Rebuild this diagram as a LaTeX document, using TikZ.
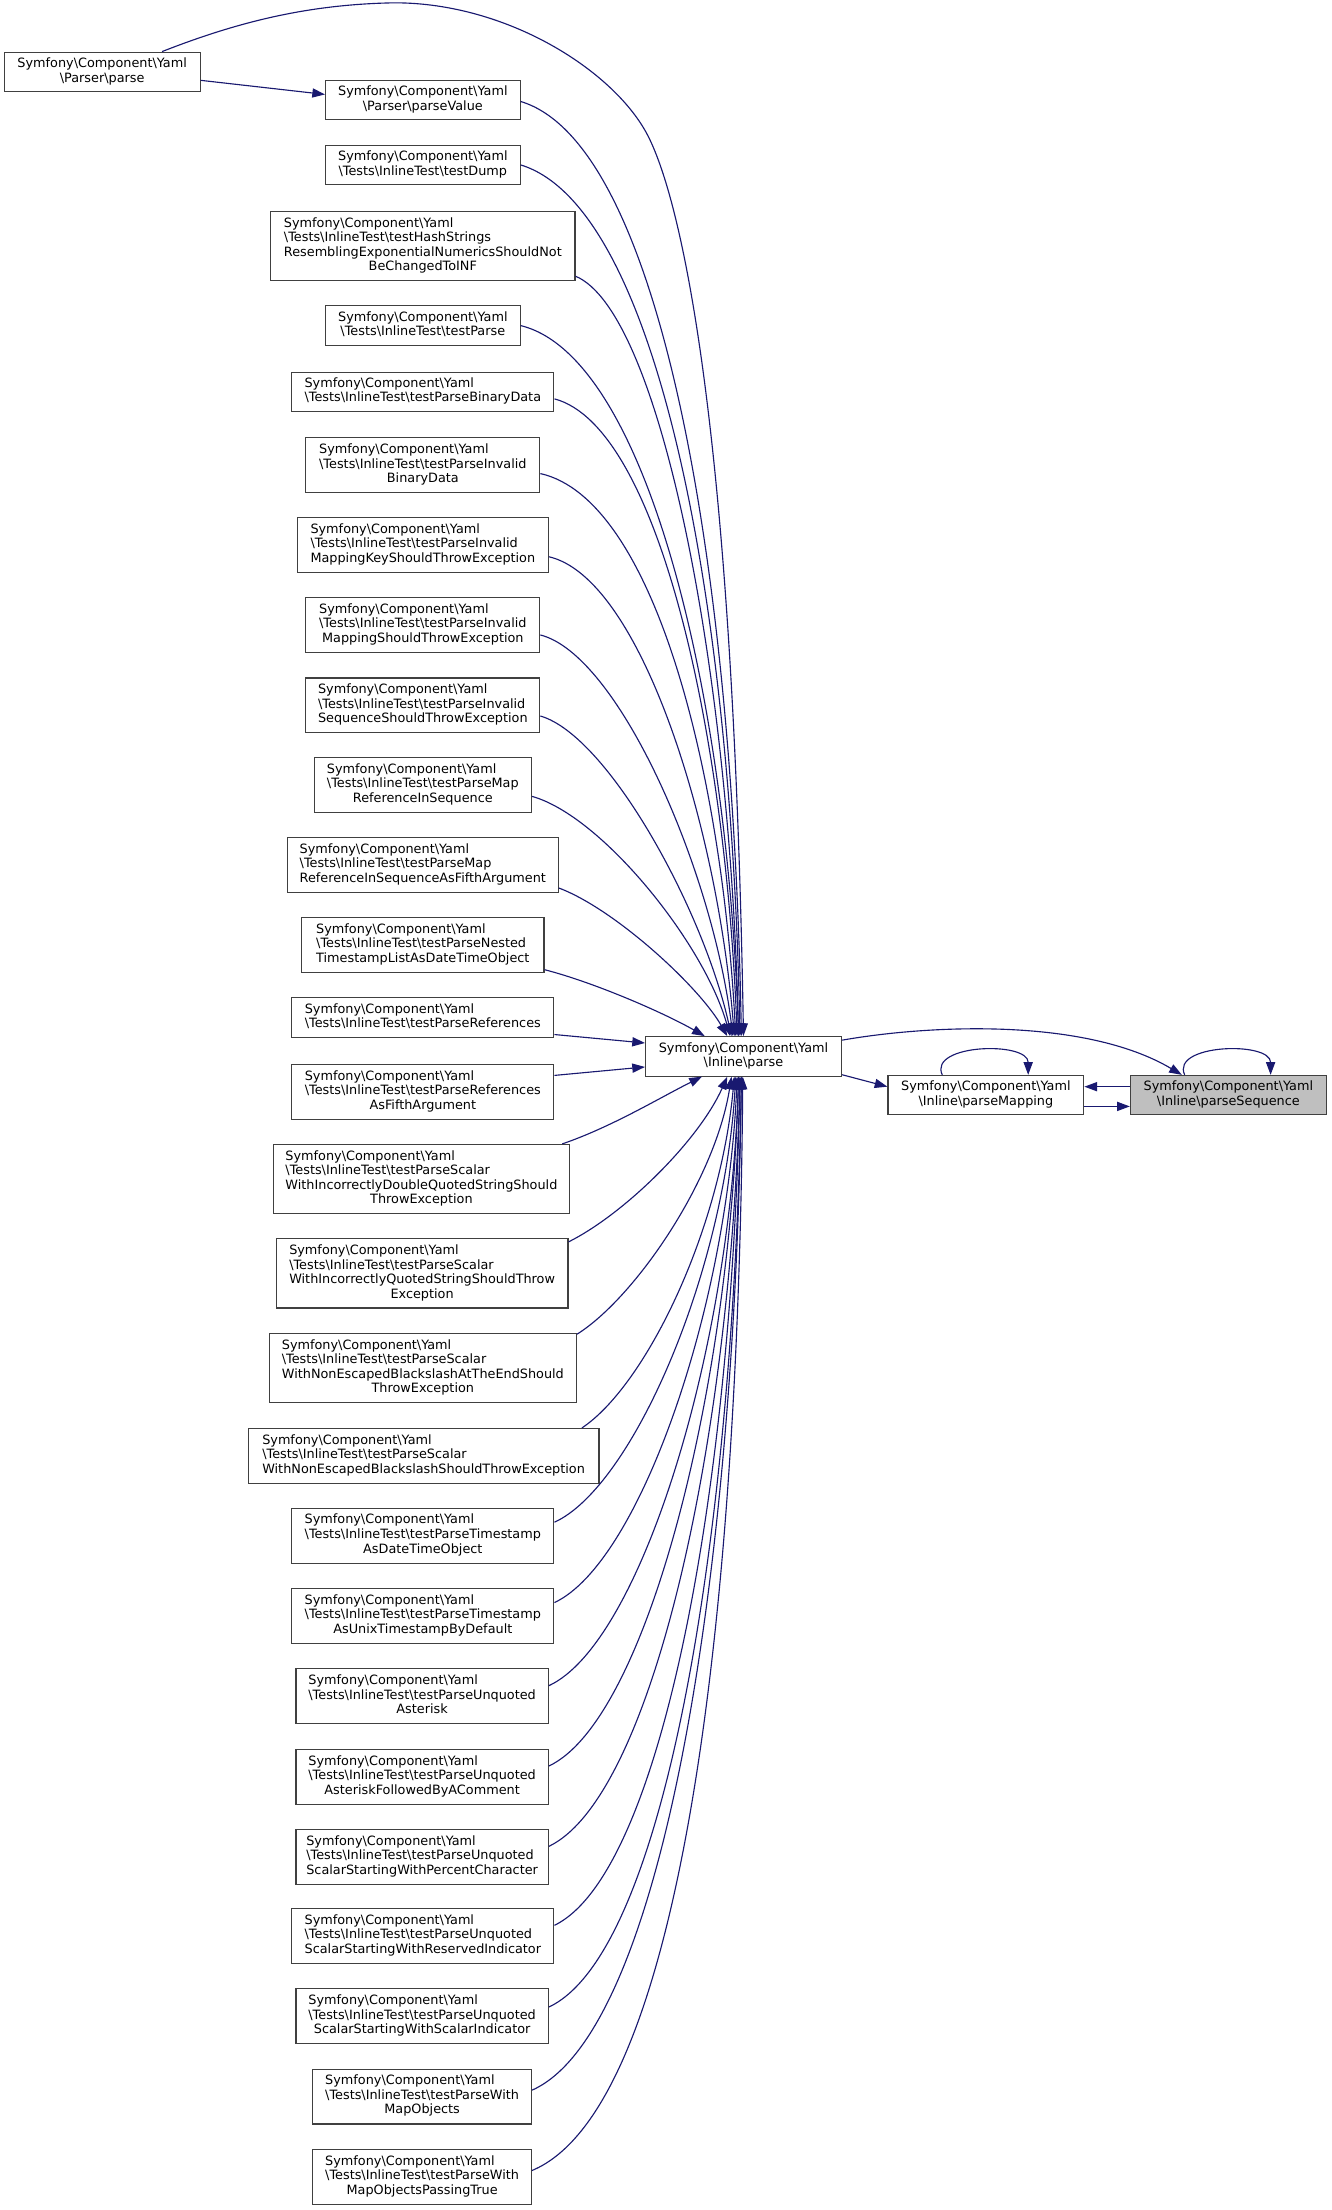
\documentclass[tikz,border=0pt]{standalone}
\usepackage{fontspec}
\setmainfont{DejaVu Sans}
\usetikzlibrary{arrows.meta,calc}
\definecolor{edgec}{HTML}{191970}
\definecolor{boxc}{HTML}{404040}
\definecolor{selfc}{HTML}{BFBFBF}
\newcommand\BSL{\textbackslash}
\newcommand\SY{Symfony\BSL Component\BSL Yaml}
\newcommand\TI{\BSL Tests\BSL InlineTest\BSL}
\newcommand\LL[1]{\multicolumn{1}{@{}c@{}}{#1}}
\newcommand\mkbox[7][]{\node[fnbox,minimum width=#5pt,minimum height=#6pt,#1] (#2) at (#3,#4) {\begin{tabular}{@{}l@{}}#7\end{tabular}};}
\tikzset{
  fnbox/.style={draw=boxc,line width=0.8pt,fill=white,inner sep=0pt,rectangle,font=\fontsize{9.1}{10.3}\selectfont},
  edge/.style={draw=edgec,line width=0.8pt,-{Triangle[length=9pt,width=6.5pt]}}
}
\begin{document}
\begin{tikzpicture}[x=1pt,y=-1pt]
\fill[white] (0,0) rectangle (945,1568);
\useasboundingbox (0,0) rectangle (945,1568);
% nodes
\mkbox{pparse}{72.5}{51}{139}{28}{\SY\\\LL{\BSL Parser\BSL parse}}
\mkbox{pvalue}{300}{71}{138}{28}{\SY\\\LL{\BSL Parser\BSL parseValue}}
\mkbox{tdump}{300}{117}{138}{28}{\SY\\\LL{\TI testDump}}
\mkbox{thash}{300}{174.5}{216}{49}{\SY\\\TI testHashStrings\\ResemblingExponentialNumericsShouldNot\\\LL{BeChangedToINF}}
\mkbox{tparse}{300}{231}{138}{28}{\SY\\\LL{\TI testParse}}
\mkbox{tbin}{300}{278}{186}{28}{\SY\\\LL{\TI testParseBinaryData}}
\mkbox{tinvbin}{300}{330}{166}{39}{\SY\\\TI testParseInvalid\\\LL{BinaryData}}
\mkbox{tkey}{300}{386.5}{178}{39}{\SY\\\TI testParseInvalid\\\LL{MappingKeyShouldThrowException}}
\mkbox{tmap}{300}{443.5}{166}{39}{\SY\\\TI testParseInvalid\\\LL{MappingShouldThrowException}}
\mkbox{tseq}{300}{500.5}{166}{39}{\SY\\\TI testParseInvalid\\\LL{SequenceShouldThrowException}}
\mkbox{tref}{300}{557}{154}{39}{\SY\\\TI testParseMap\\\LL{ReferenceInSequence}}
\mkbox{treffifth}{300}{613.5}{192}{39}{\SY\\\TI testParseMap\\\LL{ReferenceInSequenceAsFifthArgument}}
\mkbox{tnested}{300}{670.5}{172}{39}{\SY\\\TI testParseNested\\\LL{TimestampListAsDateTimeObject}}
\mkbox{trefs}{300}{722}{186}{28}{\SY\\\LL{\TI testParseReferences}}
\mkbox{trefs5}{300}{774.5}{186}{39}{\SY\\\TI testParseReferences\\\LL{AsFifthArgument}}
\mkbox{tdq}{299}{836.5}{210}{49}{\SY\\\TI testParseScalar\\WithIncorrectlyDoubleQuotedStringShould\\\LL{ThrowException}}
\mkbox{tiq}{299.5}{903.5}{207}{49}{\SY\\\TI testParseScalar\\WithIncorrectlyQuotedStringShouldThrow\\\LL{Exception}}
\mkbox{tend}{300}{970.5}{218}{49}{\SY\\\TI testParseScalar\\WithNonEscapedBlackslashAtTheEndShould\\\LL{ThrowException}}
\mkbox{tnonesc}{300.5}{1033}{249}{39}{\SY\\\TI testParseScalar\\\LL{WithNonEscapedBlackslashShouldThrowException}}
\mkbox{tts}{300}{1089.5}{186}{39}{\SY\\\TI testParseTimestamp\\\LL{AsDateTimeObject}}
\mkbox{tunix}{300}{1146.5}{186}{39}{\SY\\\TI testParseTimestamp\\\LL{AsUnixTimestampByDefault}}
\mkbox{tast}{299.5}{1203.5}{179}{39}{\SY\\\TI testParseUnquoted\\\LL{Asterisk}}
\mkbox{tastc}{299.5}{1260.5}{179}{39}{\SY\\\TI testParseUnquoted\\\LL{AsteriskFollowedByAComment}}
\mkbox{tpct}{299.5}{1317.5}{179}{39}{\SY\\\TI testParseUnquoted\\\LL{ScalarStartingWithPercentCharacter}}
\mkbox{tres}{300}{1373.5}{186}{39}{\SY\\\TI testParseUnquoted\\\LL{ScalarStartingWithReservedIndicator}}
\mkbox{tscal}{299.5}{1430.5}{179}{39}{\SY\\\TI testParseUnquoted\\\LL{ScalarStartingWithScalarIndicator}}
\mkbox{tmo}{299.5}{1487.5}{155}{39}{\SY\\\TI testParseWith\\\LL{MapObjects}}
\mkbox{tmopt}{299.5}{1544.5}{155}{39}{\SY\\\TI testParseWith\\\LL{MapObjectsPassingTrue}}
\mkbox{iparse}{527.5}{749.5}{139}{28}{\SY\\\LL{\BSL Inline\BSL parse}}
\mkbox{pmap}{699.5}{777}{139}{28}{\SY\\\LL{\BSL Inline\BSL parseMapping}}
\mkbox[fill=selfc]{pseq}{871.5}{777}{139}{28}{\SY\\\LL{\BSL Inline\BSL parseSequence}}
% edges
\draw[edge] ($(pparse.east)+(0,6)$) -- ($(pvalue.west)+(0,-4)$);
\draw[edge] ($(pparse.north)+(42.5,0)$) .. controls (170,15) and (220,3) .. (280,2)
  .. controls (360,2) and (435,50) .. (459,95)
  .. controls (483,140) and (520,300) .. (iparse.north);
\draw[edge] ($(pvalue.east)+(0,1)$) .. controls +(100,30) and +(-6,-330) .. ($(iparse.north)+(-1.5,0)$);
\draw[edge] (tdump.east) .. controls +(98,30) and +(-6,-305) .. ($(iparse.north)+(-2.5,0)$);
\draw[edge] ($(thash.east)+(0,21.5)$) .. controls +(60,25) and +(-6,-260) .. ($(iparse.north)+(-3.5,0)$);
\draw[edge] (tparse.east) .. controls +(90,22) and +(-8,-240) .. ($(iparse.north)+(-3.5,0)$);
\draw[edge] ($(tbin.east)+(0,5)$) .. controls +(75,20) and +(-8,-210) .. ($(iparse.north)+(-4.5,0)$);
\draw[edge] ($(tinvbin.east)+(0,6)$) .. controls +(80,18) and +(-10,-190) .. ($(iparse.north)+(-5.5,0)$);
\draw[edge] ($(tkey.east)+(0,8.5)$) .. controls +(65,15) and +(-12,-150) .. ($(iparse.north)+(-6.5,0)$);
\draw[edge] ($(tmap.east)+(0,7)$) .. controls +(55,14) and +(-15,-120) .. ($(iparse.north)+(-7.5,0)$);
\draw[edge] ($(tseq.east)+(0,7.5)$) .. controls +(48,14) and +(-20,-90) .. ($(iparse.north)+(-8.5,0)$);
\draw[edge] ($(tref.east)+(0,8)$) .. controls +(50,14) and +(-18,-65) .. ($(iparse.north)+(-9.5,0)$);
\draw[edge] ($(treffifth.east)+(0,16.5)$) .. controls +(40,15) and +(-20,-35) .. ($(iparse.north)+(-11.5,0)$);
\draw[edge] ($(tnested.east)+(0,17.5)$) .. controls +(35,9) and +(-30,-17) .. ($(iparse.north)+(-27.5,0)$);
\draw[edge] ($(trefs.east)+(0,12)$) -- ($(iparse.west)+(0,-9.5)$);
\draw[edge] ($(trefs5.east)+(0,-11.5)$) -- ($(iparse.west)+(0,7.5)$);
\draw[edge] ($(tdq.north east)+(-5.5,0)$) .. controls +(35,-12) and +(-30,15) .. ($(iparse.south)+(-29.5,0)$);
\draw[edge] ($(tiq.north east)+(0,2.5)$) .. controls +(40,-20) and +(-20,45) .. ($(iparse.south)+(-11.5,0)$);
\draw[edge] ($(tend.north east)+(0,1)$) .. controls +(40,-25) and +(-12,75) .. ($(iparse.south)+(-8.5,0)$);
\draw[edge] ($(tnonesc.north east)+(-12.5,0)$) .. controls +(45,-30) and +(-10,110) .. ($(iparse.south)+(-6.5,0)$);
\draw[edge] ($(tts.east)+(0,-9.5)$) .. controls +(55,-25) and +(-8,140) .. ($(iparse.south)+(-5.5,0)$);
\draw[edge] ($(tunix.east)+(0,-9.5)$) .. controls +(60,-28) and +(-7,165) .. ($(iparse.south)+(-4.5,0)$);
\draw[edge] ($(tast.east)+(0,-7.5)$) .. controls +(65,-30) and +(-6,195) .. ($(iparse.south)+(-3.5,0)$);
\draw[edge] ($(tastc.east)+(0,-7.5)$) .. controls +(70,-33) and +(-6,220) .. ($(iparse.south)+(-3.5,0)$);
\draw[edge] ($(tpct.east)+(0,-7.5)$) .. controls +(75,-36) and +(-6,250) .. ($(iparse.south)+(-2.5,0)$);
\draw[edge] ($(tres.east)+(0,-7.5)$) .. controls +(78,-38) and +(-5,280) .. ($(iparse.south)+(-2.5,0)$);
\draw[edge] ($(tscal.east)+(0,-6.5)$) .. controls +(85,-40) and +(-5,310) .. ($(iparse.south)+(-1.5,0)$);
\draw[edge] ($(tmo.east)+(0,-4.5)$) .. controls +(95,-42) and +(-4,340) .. ($(iparse.south)+(-1.5,0)$);
\draw[edge] ($(tmopt.east)+(0,-4.5)$) .. controls +(108,-45) and +(-3,370) .. ($(iparse.south)+(-0.5,0)$);
\draw[edge] ($(iparse.east)+(0,13)$) -- ($(pmap.west)+(0,-6)$);
\draw[edge] ($(iparse.east)+(0,-11.5)$) .. controls (660,727) and (770,722) .. ($(pseq.north)+(-33,0)$);
\draw[edge] ($(pseq.west)+(0,-6)$) -- ($(pmap.east)+(0,-6)$);
\draw[edge] ($(pmap.east)+(0,8)$) -- ($(pseq.west)+(0,8)$);
\draw[edge] ($(pmap.north)+(-31,0)$) .. controls +(-10,-22) and +(0,-24) .. ($(pmap.north)+(30,0)$);
\draw[edge] ($(pseq.north)+(-31,0)$) .. controls +(-10,-22) and +(0,-24) .. ($(pseq.north)+(30,0)$);
\end{tikzpicture}
\end{document}
